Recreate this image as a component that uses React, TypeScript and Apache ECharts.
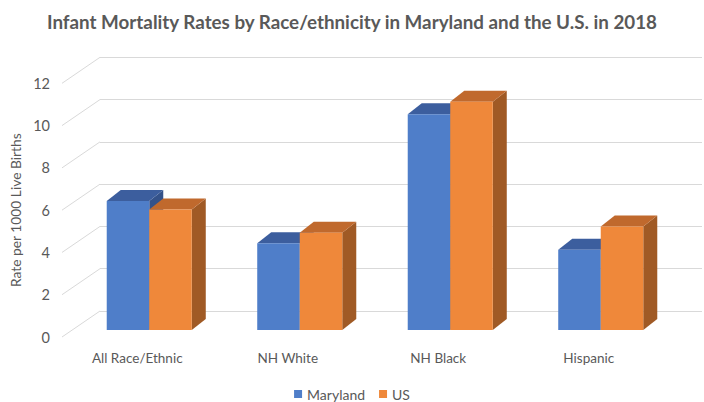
import React, { useEffect, useRef } from "react";
import * as echarts from "echarts";

const categories = ["All Race/Ethnic", "NH White", "NH Black", "Hispanic"];
const marylandRates = [6.1, 4.1, 10.2, 3.8];
const usRates = [5.7, 4.6, 10.8, 4.9];
const yTicks = [0, 2, 4, 6, 8, 10, 12];

// Oblique projection of the floor: back wall -> front edge
const DEPTH_DX = -38;
const DEPTH_DY = 26;
// Bars stand partway into the floor, with their own small depth
const BAR_FRONT_DX = -26;
const BAR_FRONT_DY = 19;
const BAR_DX = 14;
const BAR_DY = -11;
const BAR_FRACTION = 0.2825;

const TEXT = "#595959";
const FONT = "Lato, 'Open Sans', sans-serif";

const palette = {
  maryland: { front: "#4f7ec9", top: "#3c5e9e", side: "#34528a" },
  us: { front: "#ef883a", top: "#c0692d", side: "#a05a25" },
};

function barRenderer(shades: { front: string; top: string; side: string }, leftOfCenter: boolean) {
  return (params: any, api: any) => {
    const i = api.value(0);
    const v = api.value(1);
    const top = api.coord([i, v]);
    const base = api.coord([i, 0]);
    const band = api.size([1, 0])[0];
    const w = band * BAR_FRACTION;
    const cx = top[0] + BAR_FRONT_DX;
    const x0 = leftOfCenter ? cx - w : cx;
    const x1 = x0 + w;
    const yt = top[1] + BAR_FRONT_DY;
    const yb = base[1] + BAR_FRONT_DY;
    return {
      type: "group",
      children: [
        {
          type: "polygon",
          shape: { points: [[x1, yt], [x1 + BAR_DX, yt + BAR_DY], [x1 + BAR_DX, yb + BAR_DY], [x1, yb]] },
          style: { fill: shades.side },
        },
        {
          type: "polygon",
          shape: { points: [[x0, yt], [x1, yt], [x1 + BAR_DX, yt + BAR_DY], [x0 + BAR_DX, yt + BAR_DY]] },
          style: { fill: shades.top },
        },
        {
          type: "rect",
          shape: { x: x0, y: yt, width: w, height: yb - yt },
          style: { fill: shades.front },
        },
      ],
    };
  };
}

export default function App() {
  const ref = useRef<HTMLDivElement>(null);

  useEffect(() => {
    if (!ref.current) return;
    const chart = echarts.init(ref.current, null, { renderer: "svg" });

    const backGrid = { left: 100, right: 2, top: 57.3, bottom: 91 };
    const frontGrid = {
      left: backGrid.left + DEPTH_DX,
      right: backGrid.right - DEPTH_DX,
      top: backGrid.top + DEPTH_DY,
      bottom: backGrid.bottom - DEPTH_DY,
    };

    chart.setOption({
      animation: false,
      backgroundColor: "#ffffff",
      title: {
        text: "Infant Mortality Rates by Race/ethnicity in Maryland and the U.S. in 2018",
        left: "center",
        top: 7,
        textStyle: { color: TEXT, fontSize: 18.8, fontWeight: "bold", fontFamily: FONT },
      },
      legend: {
        bottom: 0,
        left: "center",
        padding: [5, 5, 1, 5],
        icon: "rect",
        itemWidth: 8,
        itemHeight: 8,
        itemGap: 14,
        textStyle: { color: TEXT, fontSize: 14, fontFamily: FONT },
        data: ["Maryland", "US"],
      },
      grid: [
        { ...backGrid, containLabel: false },
        { ...frontGrid, containLabel: false },
      ],
      xAxis: [
        {
          gridIndex: 0,
          type: "category",
          data: categories,
          show: false,
        },
        {
          gridIndex: 1,
          type: "category",
          data: categories,
          axisLine: { show: false },
          axisTick: { show: false },
          axisLabel: { color: TEXT, fontSize: 13.5, fontFamily: FONT, margin: 14 },
        },
      ],
      yAxis: [
        {
          gridIndex: 0,
          type: "value",
          min: 0,
          max: 12,
          interval: 2,
          axisLabel: { show: false },
          axisLine: { show: false },
          axisTick: { show: false },
          splitLine: { lineStyle: { color: "#d9d9d9", width: 1 } },
        },
        {
          gridIndex: 1,
          type: "value",
          min: 0,
          max: 12,
          interval: 2,
          name: "Rate per 1000 Live Births",
          nameLocation: "middle",
          nameGap: 38,
          nameTextStyle: { color: TEXT, fontSize: 13.8, fontFamily: FONT },
          axisLabel: { color: TEXT, fontSize: 14.5, fontFamily: FONT, margin: 12 },
          axisLine: { show: false },
          axisTick: { show: false },
          splitLine: { show: false },
        },
      ],
      series: [
        {
          name: "floor",
          type: "custom",
          xAxisIndex: 0,
          yAxisIndex: 0,
          silent: true,
          data: yTicks.map((t) => [0, t]),
          encode: { x: 0, y: 1 },
          renderItem: (params: any, api: any) => {
            const p = api.coord([0, api.value(1)]);
            const left = params.coordSys.x;
            return {
              type: "line",
              shape: { x1: left, y1: p[1], x2: left + DEPTH_DX, y2: p[1] + DEPTH_DY },
              style: { stroke: "#d9d9d9", lineWidth: 1 },
            };
          },
        },
        {
          name: "Maryland",
          type: "custom",
          xAxisIndex: 0,
          yAxisIndex: 0,
          itemStyle: { color: palette.maryland.front },
          data: marylandRates.map((v, i) => [i, v]),
          encode: { x: 0, y: 1 },
          renderItem: barRenderer(palette.maryland, true),
        },
        {
          name: "US",
          type: "custom",
          xAxisIndex: 0,
          yAxisIndex: 0,
          itemStyle: { color: palette.us.front },
          data: usRates.map((v, i) => [i, v]),
          encode: { x: 0, y: 1 },
          renderItem: barRenderer(palette.us, false),
        },
      ],
    });

    return () => chart.dispose();
  }, []);

  return <div ref={ref} style={{ width: 704, height: 402, position: "absolute", left: 0, top: 0 }} />;
}
